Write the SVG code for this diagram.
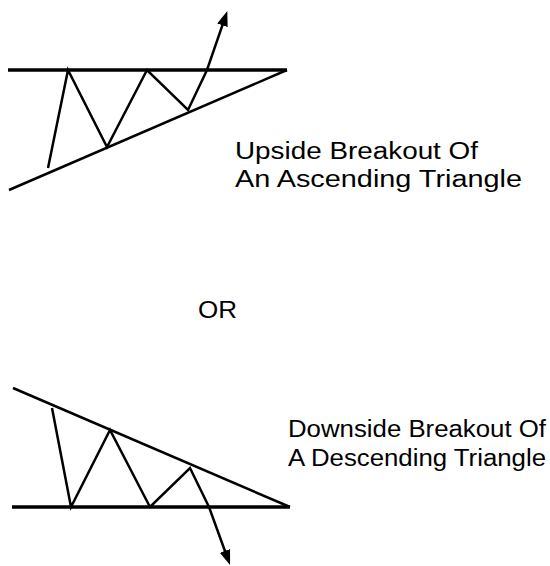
<svg xmlns="http://www.w3.org/2000/svg" width="550" height="566" viewBox="0 0 550 566">
<style>
.base{stroke:#000;stroke-width:3.5;fill:none}
.ln{stroke:#000;stroke-width:2.5;fill:none;stroke-linejoin:miter}
.lbl{font-family:"Liberation Sans",Arial,sans-serif;font-size:23px;fill:#000}
</style>
<defs>
<marker id="ah" viewBox="0 0 15 11" refX="7" refY="5.5" markerWidth="15" markerHeight="11" markerUnits="userSpaceOnUse" orient="auto">
<path d="M0,0 L15,5.5 L0,11 z" fill="#000"/>
</marker>
</defs>
<rect width="550" height="566" fill="#fff"/>
<g id="connectors">
<g id="ascending">
<line class="base" x1="8" y1="70" x2="287" y2="70"/>
<line class="ln" x1="9" y1="190" x2="287" y2="70"/>
<polyline class="ln" points="48,168 68,70 107,147 147,70 188,110 207,70 224.7,18.6" marker-end="url(#ah)"/>
</g>
<g id="descending">
<line class="base" x1="12" y1="507" x2="290" y2="507"/>
<line class="ln" x1="13" y1="388" x2="290" y2="507"/>
<polyline class="ln" points="52,408 71,507 110,430 150,507 190,468 209,507 227.3,557.5" marker-end="url(#ah)"/>
</g>
</g>
<g id="label-up">
<text class="lbl" x="235" y="159" textLength="243" lengthAdjust="spacingAndGlyphs">Upside Breakout Of</text>
<text class="lbl" x="235" y="187" textLength="287" lengthAdjust="spacingAndGlyphs">An Ascending Triangle</text>
</g>
<g id="label-or">
<text class="lbl" x="198" y="318" textLength="39" lengthAdjust="spacingAndGlyphs">OR</text>
</g>
<g id="label-down">
<text class="lbl" x="288" y="437" textLength="258" lengthAdjust="spacingAndGlyphs">Downside Breakout Of</text>
<text class="lbl" x="288" y="466" textLength="258" lengthAdjust="spacingAndGlyphs">A Descending Triangle</text>
</g>
</svg>
